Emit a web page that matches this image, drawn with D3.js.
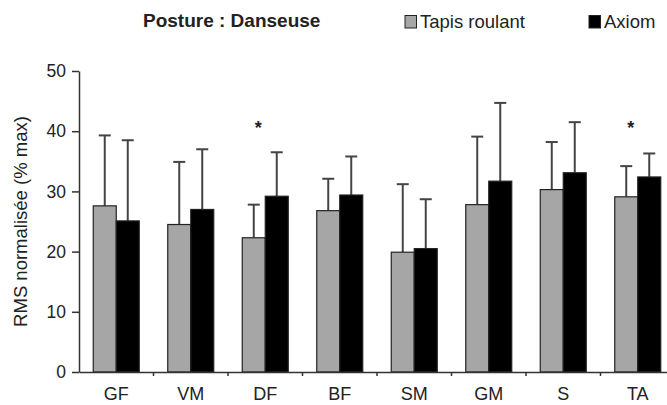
<!DOCTYPE html>
<html>
<head>
<meta charset="utf-8">
<script src="https://cdn.jsdelivr.net/npm/d3@7"></script>
<style>
  body { margin: 0; background: #fff; }
  svg { display: block; font-family: "Liberation Sans", Arial, sans-serif; }
</style>
</head>
<body>
<div id="chart"></div>
<script>
// données
const muscles = ["GF", "VM", "DF", "BF", "SM", "GM", "S", "TA"];
const tapisMoy = [27.6, 24.5, 22.3, 26.8, 19.9, 27.8, 30.3, 29.1];
const tapisMax = [39.3, 34.9, 27.8, 32.1, 31.2, 39.1, 38.2, 34.2];
const axiomMoy = [25.1, 27.0, 29.2, 29.4, 20.5, 31.7, 33.1, 32.4];
const axiomMax = [38.5, 37.0, 36.5, 35.8, 28.7, 44.7, 41.5, 36.3];
const significatif = ["DF", "TA"];
const yTicks = [0, 10, 20, 30, 40, 50];

const width = 667, height = 405;
const marginLeft = 79, marginTop = 71, bottomY = 372;
const font = "Liberation Sans, Arial, sans-serif";

const svg = d3.select("#chart").append("svg")
    .attr("width", width)
    .attr("height", height);

const x = d3.scaleBand()
    .domain(muscles)
    .range([marginLeft, marginLeft + 8 * 74.5])
    .padding(0);

const y = d3.scaleLinear()
    .domain([0, 50])
    .range([bottomY, marginTop]);

const barW = 23;

const series = [
  { name: "Tapis roulant", moy: tapisMoy, max: tapisMax, fill: "#a6a6a6", dx: -barW },
  { name: "Axiom", moy: axiomMoy, max: axiomMax, fill: "#000000", dx: 0 }
];

// barres d'erreur (au-dessus uniquement)
series.forEach(s => {
  const g = svg.append("g");
  muscles.forEach((m, i) => {
    const cx = x(m) + x.bandwidth() / 2 + s.dx + barW / 2;
    g.append("line")
      .attr("x1", cx).attr("x2", cx)
      .attr("y1", y(s.moy[i])).attr("y2", y(s.max[i]))
      .attr("stroke", "#444").attr("stroke-width", 2);
    g.append("line")
      .attr("x1", cx - 6).attr("x2", cx + 6)
      .attr("y1", y(s.max[i])).attr("y2", y(s.max[i]))
      .attr("stroke", "#444").attr("stroke-width", 2);
  });
});

// barres
series.forEach(s => {
  svg.append("g")
    .selectAll("rect")
    .data(muscles)
    .join("rect")
      .attr("x", (m) => x(m) + x.bandwidth() / 2 + s.dx)
      .attr("y", (m, i) => y(s.moy[i]))
      .attr("width", barW)
      .attr("height", (m, i) => y(0) - y(s.moy[i]))
      .attr("fill", s.fill)
      .attr("stroke", "#222")
      .attr("stroke-width", 1.2);
});

// étoiles
svg.append("g")
  .selectAll("text")
  .data(significatif)
  .join("text")
    .attr("x", (m) => x(m) + x.bandwidth() / 2 - 7)
    .attr("y", y(39.6))
    .attr("text-anchor", "middle")
    .attr("font-size", 18)
    .attr("font-weight", "bold")
    .attr("fill", "#222")
    .text("*");

// axe X
svg.append("g")
    .attr("transform", `translate(0,${bottomY})`)
    .call(d3.axisBottom(x).tickSize(4).tickPadding(11).tickSizeOuter(0))
    .call(g => g.selectAll(".tick line")
        .attr("transform", `translate(${x.bandwidth() / 2},0)`))
    .call(g => g.select(".domain").attr("stroke", "#333").attr("stroke-width", 1.5))
    .call(g => g.selectAll(".tick line").attr("stroke", "#333").attr("stroke-width", 1.5))
    .call(g => g.selectAll(".tick text")
        .attr("font-size", 18).attr("fill", "#222").attr("font-family", font));

// axe Y
svg.append("g")
    .attr("transform", `translate(${marginLeft},0)`)
    .call(d3.axisLeft(y).tickValues(yTicks).tickSize(7).tickPadding(6).tickSizeOuter(0))
    .call(g => g.select(".domain").attr("stroke", "#333").attr("stroke-width", 1.5))
    .call(g => g.selectAll(".tick line").attr("stroke", "#333").attr("stroke-width", 1.5))
    .call(g => g.selectAll(".tick text")
        .attr("font-size", 17.5).attr("fill", "#222").attr("font-family", font));

svg.append("text")
    .attr("transform", `translate(27,${y(25)}) rotate(-90)`)
    .attr("text-anchor", "middle")
    .attr("font-size", 18.5)
    .attr("fill", "#222")
    .text("RMS normalisée (% max)");

// titre
svg.append("text")
    .attr("x", 143)
    .attr("y", 27)
    .attr("font-size", 19)
    .attr("font-weight", "bold")
    .attr("fill", "#222")
    .text("Posture : Danseuse");

// légende
const legend = svg.append("g");
[{ s: series[0], lx: 405 }, { s: series[1], lx: 589 }].forEach(({ s, lx }) => {
  legend.append("rect")
    .attr("x", lx).attr("y", 15.5)
    .attr("width", 11.5).attr("height", 12.5)
    .attr("fill", s.fill).attr("stroke", "#222").attr("stroke-width", 1);
  legend.append("text")
    .attr("x", lx + 15).attr("y", 28)
    .attr("font-size", 18.5)
    .attr("fill", "#222")
    .text(s.name);
});
</script>
</body>
</html>
